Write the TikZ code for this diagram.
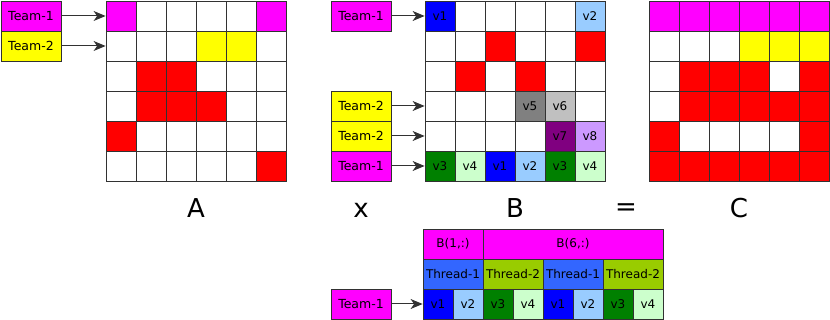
\documentclass[tikz,border=0pt]{standalone}
\usepackage{fontspec}
\setmainfont{DejaVu Sans}
\usetikzlibrary{arrows.meta}

\definecolor{gridgray}{RGB}{50,50,50}
\definecolor{tmag}{RGB}{255,0,255}
\definecolor{tyel}{RGB}{255,255,0}
\definecolor{tred}{RGB}{255,0,0}
\definecolor{tblue}{RGB}{0,0,255}
\definecolor{tlblue}{RGB}{153,204,255}
\definecolor{tgreen}{RGB}{0,128,0}
\definecolor{tlgreen}{RGB}{204,255,204}
\definecolor{tgray}{RGB}{128,128,128}
\definecolor{tlgray}{RGB}{192,192,192}
\definecolor{tpurple}{RGB}{128,0,128}
\definecolor{tlpurple}{RGB}{204,153,255}
\definecolor{thone}{RGB}{51,102,255}
\definecolor{thtwo}{RGB}{153,204,0}

\begin{document}
\begin{tikzpicture}[x=1pt, y=-1pt,
        cell/.style={rectangle, draw=gridgray, line width=0.8pt, minimum size=30pt, inner sep=0pt, font=\fontsize{12}{14}\selectfont},
        team/.style={rectangle, draw=gridgray, line width=0.8pt, minimum width=60pt, minimum height=30pt, inner sep=0pt, font=\fontsize{12.5}{14}\selectfont},
        arrow/.style={-{Stealth[length=12pt, width=10pt, inset=3.5pt]}, line width=1pt, draw=gridgray},
        mname/.style={font=\fontsize{26}{30}\selectfont}
    ]
    \useasboundingbox (0,0) rectangle (830,320);

    % X coordinates (pixels, y grows downward):
    % 31: teams of A
    % 106-286: matrix A
    % 361: teams of B
    % 425-605: matrix B
    % 649-829: matrix C
    % 423-663: row layout under B

    % Matrix A
    \foreach \row [count=\r] in {
        {tmag,white,white,white,white,tmag},
        {white,white,white,tyel,tyel,white},
        {white,tred,tred,white,white,white},
        {white,tred,tred,tred,white,white},
        {tred,white,white,white,white,white},
        {white,white,white,white,white,tred}} {
        \foreach \f [count=\c] in \row {
            \node[cell, fill=\f] (A-\r-\c) at (91+30*\c, 30*\r-14) {};
        }
    }

    \node[team, fill=tmag] (teamA1) at (31,16) {Team-1};
    \node[team, fill=tyel] (teamA2) at (31,46) {Team-2};
    \draw[arrow] (teamA1) -- (A-1-1);
    \draw[arrow] (teamA2) -- (A-2-1);

    % Matrix B
    \foreach \row [count=\r] in {
        {tblue/v1,white/{},white/{},white/{},white/{},tlblue/v2},
        {white/{},white/{},tred/{},white/{},white/{},tred/{}},
        {white/{},tred/{},white/{},tred/{},white/{},white/{}},
        {white/{},white/{},white/{},tgray/v5,tlgray/v6,white/{}},
        {white/{},white/{},white/{},white/{},tpurple/v7,tlpurple/v8},
        {tgreen/v3,tlgreen/v4,tblue/v1,tlblue/v2,tgreen/v3,tlgreen/v4}} {
        \foreach \f/\t [count=\c] in \row {
            \node[cell, fill=\f] (B-\r-\c) at (410+30*\c, 30*\r-14) {\t};
        }
    }

    \node[team, fill=tmag] (teamB1) at (361,16) {Team-1};
    \node[team, fill=tyel] (teamB4) at (361,106) {Team-2};
    \node[team, fill=tyel] (teamB5) at (361,136) {Team-2};
    \node[team, fill=tmag] (teamB6) at (361,166) {Team-1};
    \draw[arrow] (teamB1) -- (B-1-1);
    \draw[arrow] (teamB4) -- (B-4-1);
    \draw[arrow] (teamB5) -- (B-5-1);
    \draw[arrow] (teamB6) -- (B-6-1);

    % Matrix C
    \foreach \row [count=\r] in {
        {tmag,tmag,tmag,tmag,tmag,tmag},
        {white,white,white,tyel,tyel,tyel},
        {white,tred,tred,tred,white,tred},
        {white,tred,tred,tred,tred,tred},
        {tred,white,white,white,white,tred},
        {tred,tred,tred,tred,tred,tred}} {
        \foreach \f [count=\c] in \row {
            \node[cell, fill=\f] (C-\r-\c) at (634+30*\c, 30*\r-14) {};
        }
    }

    % Names and operators
    \node[mname] (labA) at (196,208) {A};
    \node[mname] (labX) at (361,210) {x};
    \node[mname] (labB) at (515,208) {B};
    \node[mname] (labEq) at (626,210) {=};
    \node[mname] (labC) at (739,208) {C};

    % Row layout
    \node[cell, fill=tmag, minimum width=60pt] (row1) at (453,244) {B(1,:)};
    \node[cell, fill=tmag, minimum width=180pt] (row6) at (573,244) {B(6,:)};

    \foreach \f/\t [count=\i] in {thone/Thread-1,thtwo/Thread-2,thone/Thread-1,thtwo/Thread-2} {
        \node[cell, fill=\f, minimum width=60pt] (th-\i) at (393+60*\i, 274) {\t};
    }

    \foreach \f/\t [count=\i] in {tblue/v1,tlblue/v2,tgreen/v3,tlgreen/v4,tblue/v1,tlblue/v2,tgreen/v3,tlgreen/v4} {
        \node[cell, fill=\f] (tv-\i) at (408+30*\i, 304) {\t};
    }

    \node[team, fill=tmag] (teamT1) at (361,304) {Team-1};
    \draw[arrow] (teamT1) -- (tv-1);

\end{tikzpicture}
\end{document}
